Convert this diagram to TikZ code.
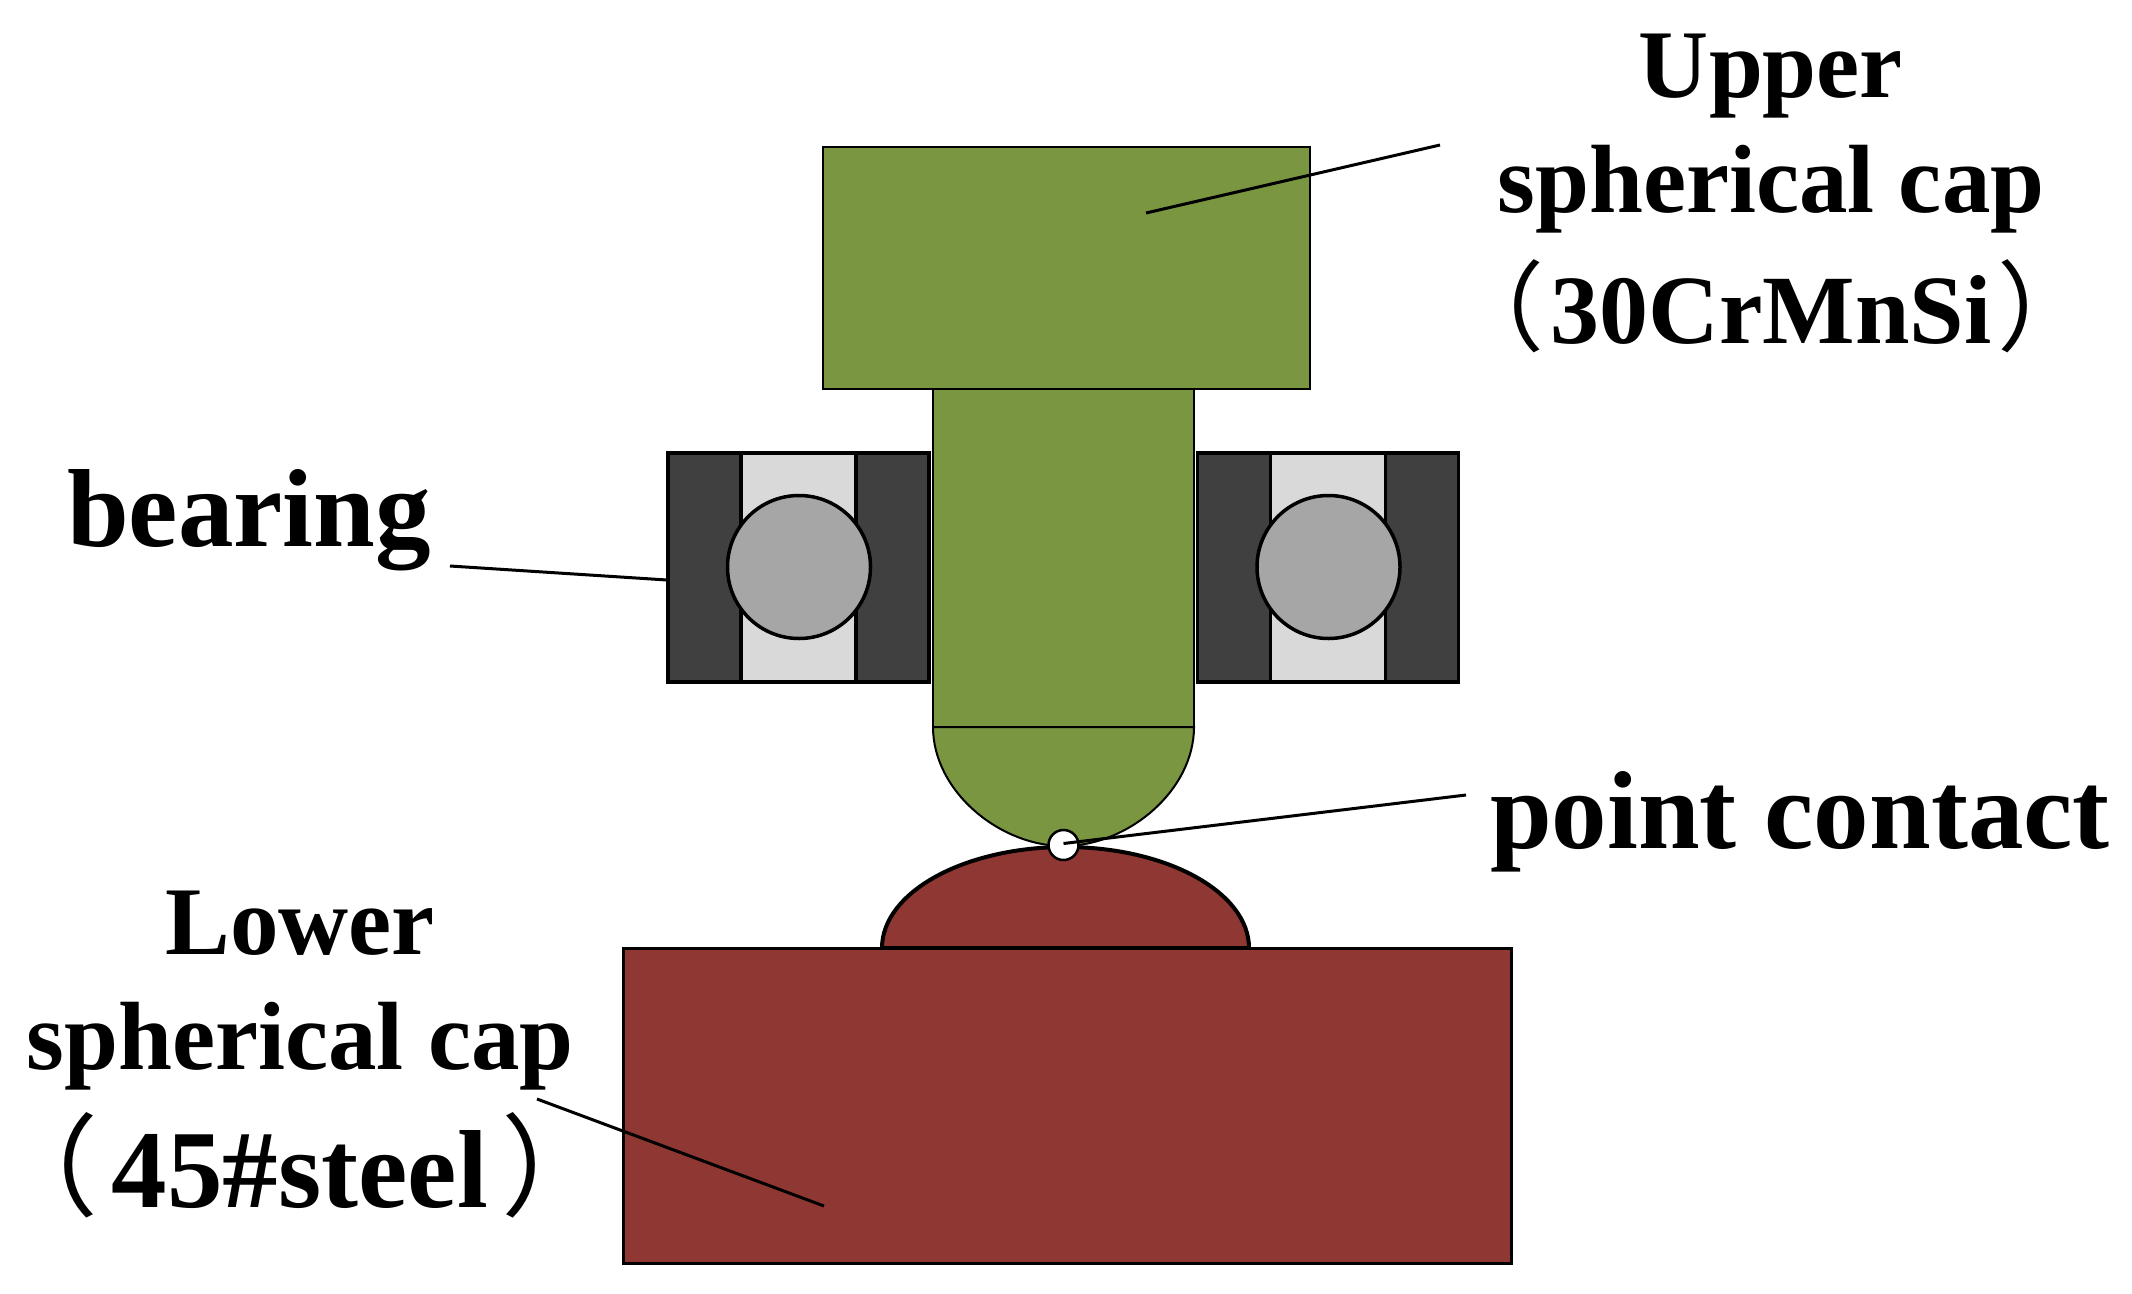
\documentclass[tikz,border=0pt]{standalone}
\usepackage{fontspec}
\setmainfont{Liberation Serif}
\newfontfamily\cjkparen[RawFeature=+palt]{Noto Sans CJK SC}
\newcommand{\lp}[1]{{\cjkparen\mdseries （}\hspace{#1}}
\newcommand{\rp}[1]{\hspace{#1}{\cjkparen\mdseries ）}}
\newcommand{\bigline}{\fontsize{111}{115}\selectfont}
\definecolor{capgreen}{HTML}{7B9641}
\definecolor{capred}{HTML}{8F3732}
\definecolor{ringdark}{HTML}{404040}
\definecolor{ringlight}{HTML}{D9D9D9}
\definecolor{ballgrey}{HTML}{A6A6A6}
\tikzset{
  part/.style={draw=black,line width=#1},
  part/.default=3pt,
  leader/.style={draw=black,line width=3pt},
  lbl/.style={inner sep=0pt,outer sep=0pt,align=center,font=\fontsize{97}{115}\selectfont\bfseries,anchor=base},
  biglbl/.style={lbl,font=\fontsize{111}{115}\selectfont\bfseries}
}
\begin{document}
\begin{tikzpicture}[x=1pt,y=-1pt]
\useasboundingbox (0,0) rectangle (2132,1293);
% lower cap
\filldraw[part=4pt,fill=capred] (882,948) arc[start angle=180,end angle=0,x radius=183.5pt,y radius=101pt] -- cycle;
\filldraw[part=3pt,fill=capred] (623,948) rectangle (1511,1263);
% upper cap
\filldraw[part=2pt,fill=capgreen] (933,727) .. controls (933,791) and (999.5,846) .. (1063.5,846) .. controls (1127.5,846) and (1194,791) .. (1194,727) -- cycle;
\filldraw[part=2.5pt,fill=capgreen] (933,389) rectangle (1194,727);
\filldraw[part=2.5pt,fill=capgreen] (823,147) rectangle (1310,389);
% bearings
\foreach \dx in {0,529.5}{
  \begin{scope}[xshift=\dx pt]
    \filldraw[part=3.5pt,fill=ringdark] (668,453) rectangle (929,682);
    \filldraw[part=3.5pt,fill=ringlight] (741,453) rectangle (856,682);
    \draw[part=3.5pt] (668,453) rectangle (929,682);
    \filldraw[part=3.5pt,fill=ballgrey] (799,567) circle[radius=71.5pt];
  \end{scope}
}
% point contact marker
\filldraw[part=2.5pt,fill=white] (1063.5,845) circle[radius=15pt];
\coordinate (contact) at (1063.5,843.5);
\coordinate (contactEnd) at (1466,795);
\coordinate (upperA) at (1146,213);
\coordinate (upperB) at (1440,145);
\coordinate (bearA) at (450,566);
\coordinate (bearB) at (667,580);
\coordinate (lowerA) at (537,1099);
\coordinate (lowerB) at (824,1206);
\draw[leader] (contact) -- (contactEnd);
\draw[leader] (upperA) -- (upperB);
\draw[leader] (bearA) -- (bearB);
\draw[leader] (lowerA) -- (lowerB);
% labels
\node[lbl] (upperlabel) at (1771,343) {Upper\\spherical cap\\[16pt]{\fontsize{98}{115}\selectfont\lp{10pt}30CrMnSi\rp{10pt}}};
\node[biglbl] (bearinglabel) at (249,546) {bearing};
\node[biglbl] (contactlabel) at (1800,848) {point contact};
\node[lbl] (lowerlabel) at (300,1207) {Lower\\spherical cap\\[21pt]{\bigline\lp{17pt}45\#steel\rp{17pt}}};
\end{tikzpicture}
\end{document}
